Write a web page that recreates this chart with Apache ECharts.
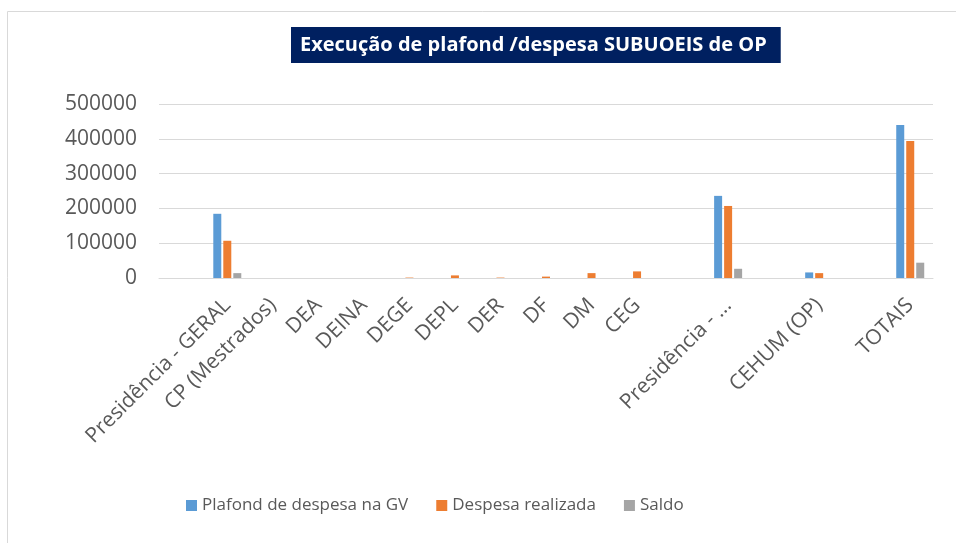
<!DOCTYPE html>
<html>
<head>
<meta charset="utf-8">
<script src="https://cdn.jsdelivr.net/npm/echarts@6/dist/echarts.min.js"></script>
<style>
html, body { margin: 0; padding: 0; background: #fff; }
#chart { width: 956px; height: 543px; }
</style>
</head>
<body>
<div id="chart"></div>
<script>
var categorias = ['', 'Presidência - GERAL', 'CP (Mestrados)', 'DEA', 'DEINA', 'DEGE', 'DEPL', 'DER', 'DF', 'DM', 'CEG', '', 'Presidência - ...', '', 'CEHUM (OP)', '', 'TOTAIS']

var plafond = [0, 184500, 0, 0, 0, 0, 0, 0, 0, 0, 0, 0, 236000, 0, 16000, 0, 440000]
var despesa = [0, 107000, 0, 0, 0, 1200, 7500, 1200, 4000, 14000, 19000, 0, 207000, 0, 14000, 0, 394000]
var saldo = [0, 14000, 0, 0, 0, 0, 0, 0, 0, 0, 0, 0, 26500, 0, 0, 0, 44000]

var chart = echarts.init(document.getElementById('chart'))
var option = {
  animation: false,
  title: {
    text: 'Execução de plafond /despesa SUBUOEIS de OP',
    left: 291,
    top: 27,
    backgroundColor: '#002060',
    padding: [8, 14, 8, 9],
    textStyle: {
      color: '#fff',
      fontFamily: 'Open Sans',
      fontWeight: 'bold',
      fontSize: 20,
      lineHeight: 20
    }
  },
  graphic: [{
    type: 'rect',
    shape: { x: 7.5, y: 11.5, width: 1000, height: 600 },
    style: { fill: 'none', stroke: '#d9d9d9', lineWidth: 1 },
    silent: true
  }],
  grid: {
    left: 159,
    right: 23,
    top: 104,
    bottom: 265
  },
  legend: {
    bottom: 24,
    left: 181,
    itemWidth: 11,
    itemHeight: 11,
    itemGap: 28,
    icon: 'rect',
    textStyle: {
      color: '#595959',
      fontFamily: 'Open Sans',
      fontSize: 17
    },
    data: ['Plafond de despesa na GV', 'Despesa realizada', 'Saldo']
  },
  xAxis: {
    type: 'category',
    data: categorias,
    axisTick: { show: false },
    axisLine: { lineStyle: { color: '#d9d9d9' } },
    axisLabel: {
      interval: 0,
      rotate: 45,
      margin: 24,
      color: '#595959',
      fontFamily: 'Open Sans',
      fontSize: 21
    }
  },
  yAxis: {
    type: 'value',
    min: 0,
    max: 500000,
    interval: 100000,
    axisLine: { show: false },
    axisTick: { show: false },
    splitLine: { lineStyle: { color: '#d9d9d9' } },
    axisLabel: {
      margin: 22,
      color: '#595959',
      fontFamily: 'Open Sans',
      fontSize: 21,
      formatter: function (v) { return String(v) }
    }
  },
  series: [{
    name: 'Plafond de despesa na GV',
    type: 'bar',
    data: plafond,
    barWidth: 8,
    barGap: '25%',
    itemStyle: { color: '#5b9bd5' }
  }, {
    name: 'Despesa realizada',
    type: 'bar',
    data: despesa,
    barWidth: 8,
    barGap: '25%',
    itemStyle: { color: '#ed7d31' }
  }, {
    name: 'Saldo',
    type: 'bar',
    data: saldo,
    barWidth: 8,
    barGap: '25%',
    itemStyle: { color: '#a5a5a5' }
  }]
}
chart.setOption(option)
</script>
</body>
</html>
